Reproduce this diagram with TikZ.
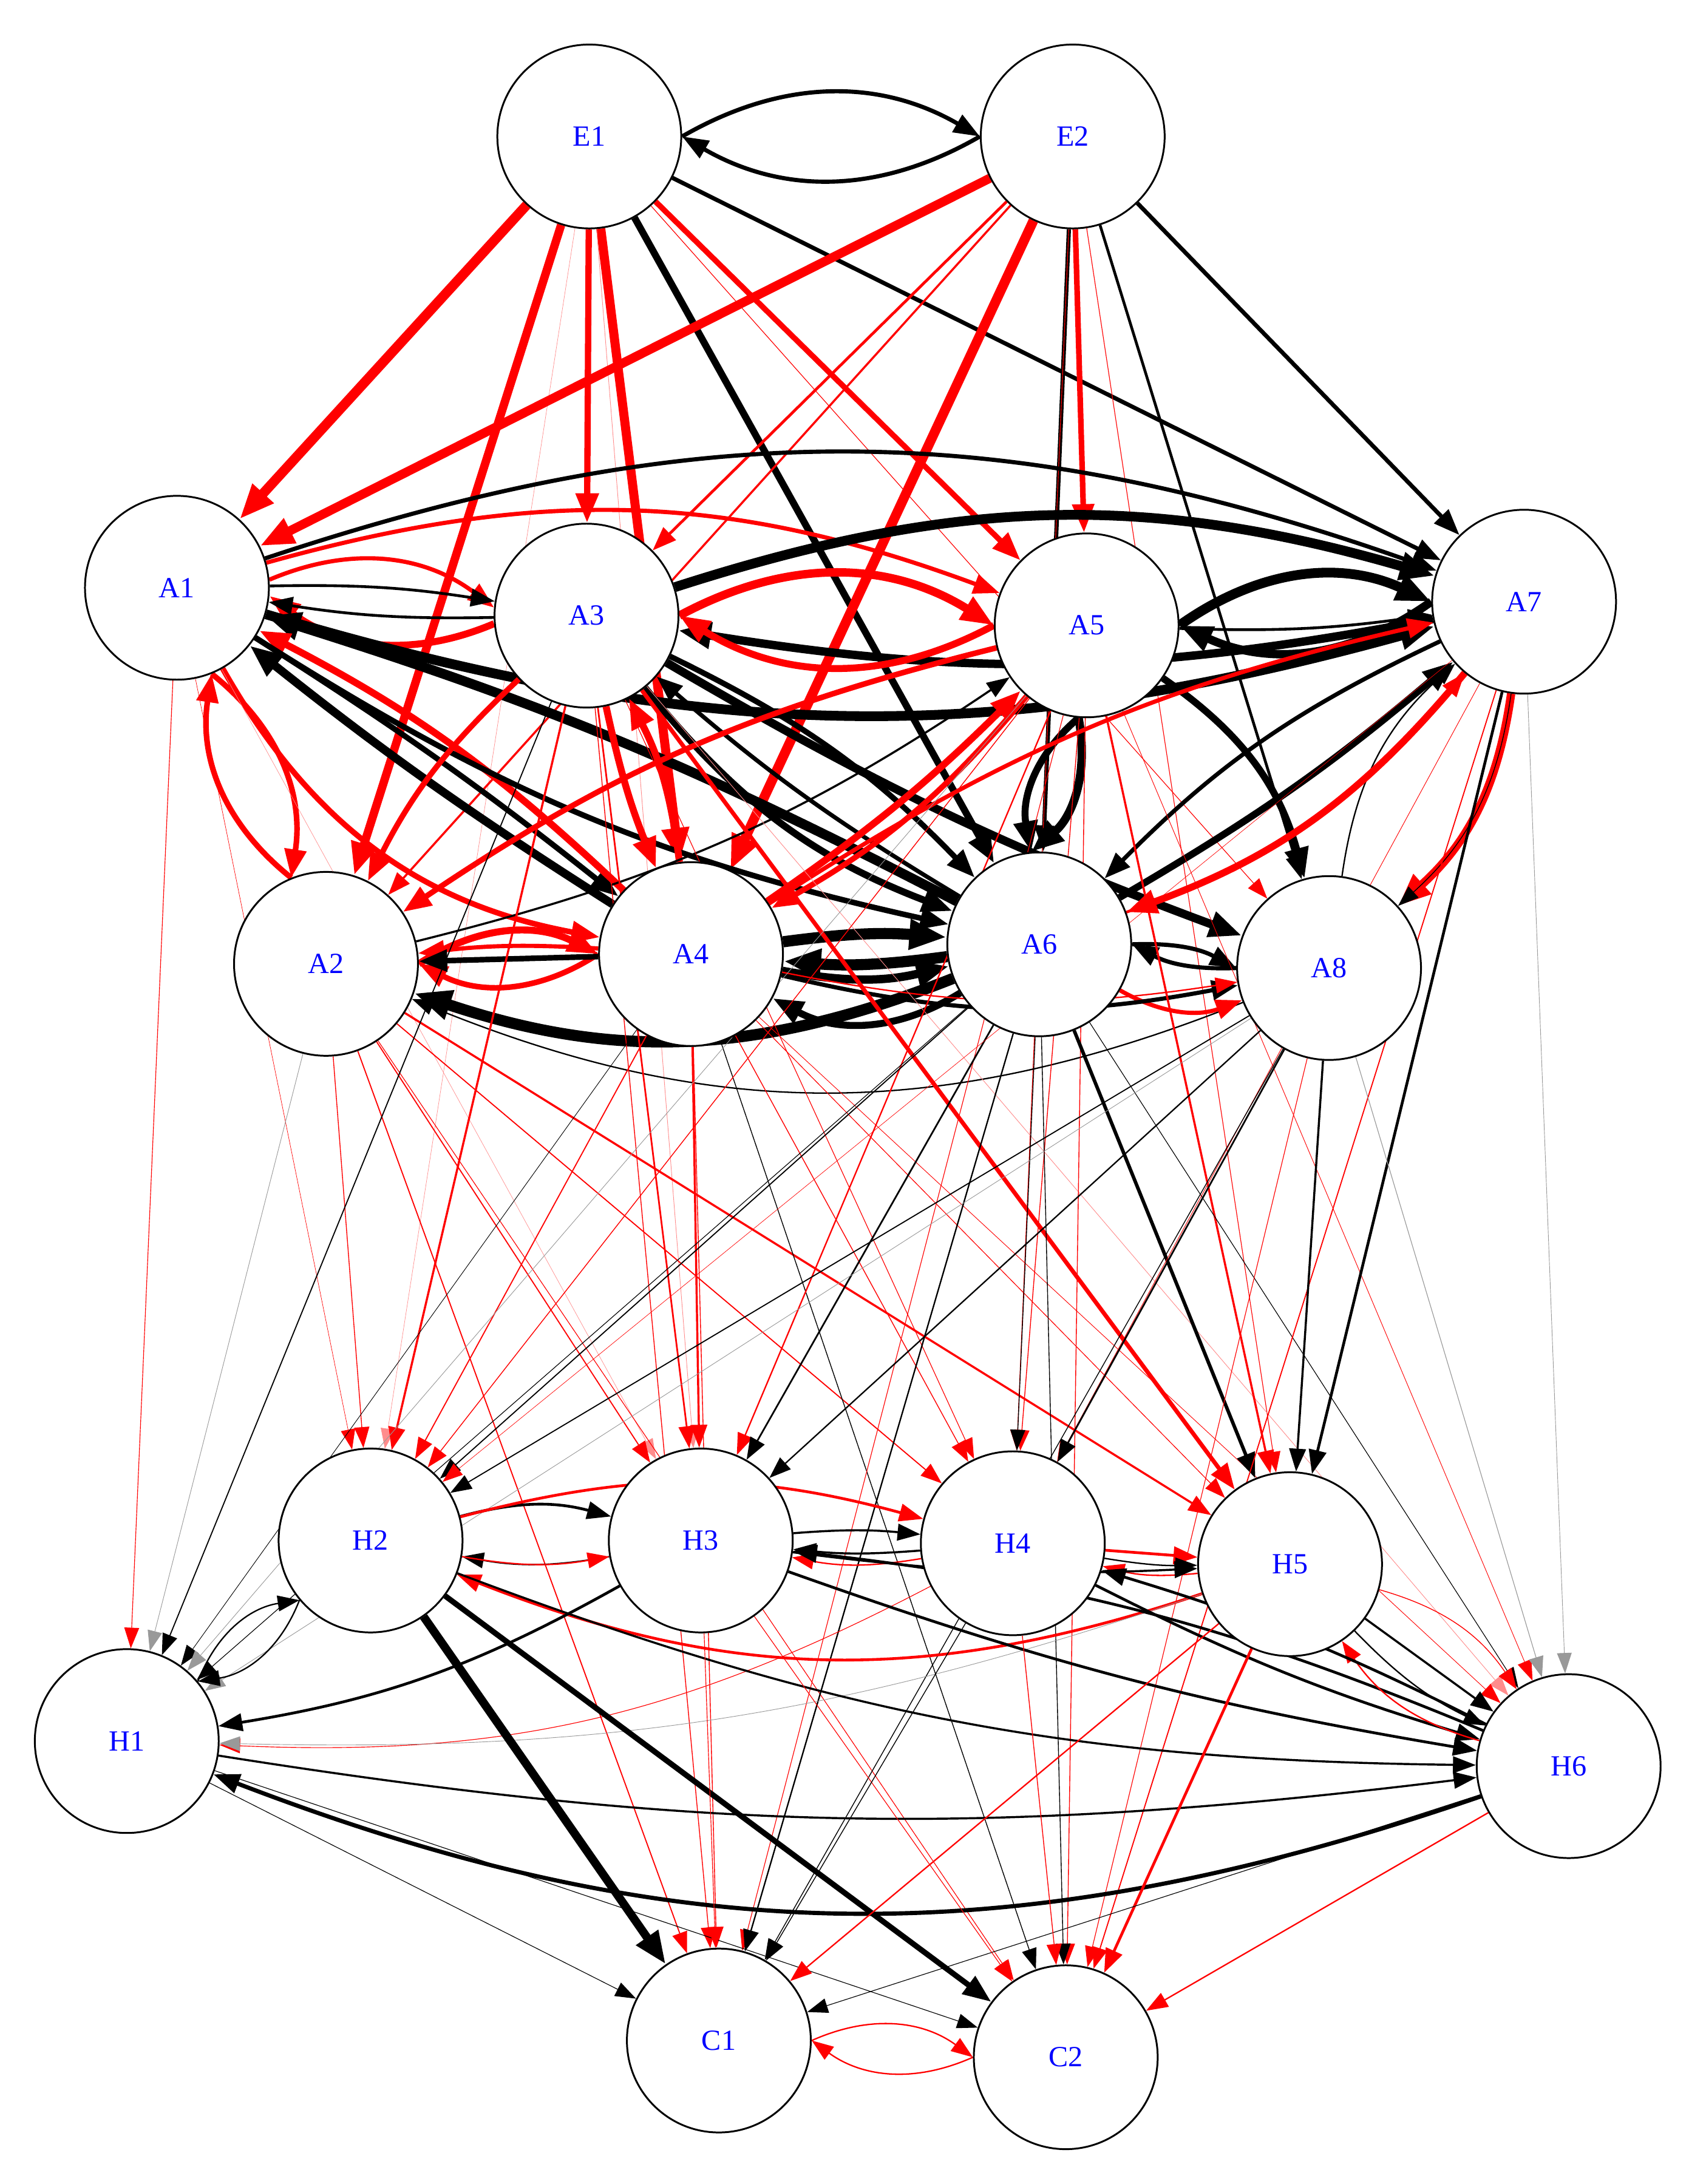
\documentclass[tikz,border=0pt]{standalone}
\usepackage{fontspec}
\setmainfont{Liberation Serif}
\usetikzlibrary{arrows.meta}
\pgfdeclarelayer{bg}
\pgfsetlayers{bg,main}
\colorlet{R}{red}
\colorlet{K}{black}
\colorlet{P}{red!45}
\colorlet{G}{black!40}
\tikzset{
  vtx/.style={circle,draw=black,line width=1.3pt,fill=white,minimum size=132pt,inner sep=0pt,text=blue,font=\fontsize{21}{21}\selectfont},
  edg/.style={-{Triangle[length=14pt 1.6,width=10pt 1.3]}},
}
\begin{document}
\begin{tikzpicture}[x=1pt,y=1pt]
\useasboundingbox (0,0) rectangle (1212,1568);
\node[vtx] (E1) at (423,1470) {E1};
\node[vtx] (E2) at (770,1470) {E2};
\node[vtx] (A1) at (127,1146) {A1};
\node[vtx] (A3) at (421,1126) {A3};
\node[vtx] (A5) at (780,1119) {A5};
\node[vtx] (A7) at (1094,1136) {A7};
\node[vtx] (A2) at (234,876) {A2};
\node[vtx] (A4) at (496,883) {A4};
\node[vtx] (A6) at (746,890) {A6};
\node[vtx] (A8) at (954,873) {A8};
\node[vtx] (H2) at (266,462) {H2};
\node[vtx] (H3) at (503,462) {H3};
\node[vtx] (H4) at (727,460) {H4};
\node[vtx] (H5) at (926,445) {H5};
\node[vtx] (H1) at (91,318) {H1};
\node[vtx] (H6) at (1126,300) {H6};
\node[vtx] (C1) at (516,103) {C1};
\node[vtx] (C2) at (765,91) {C2};
\begin{pgfonlayer}{bg}
\foreach \a/\b/\c/\w/\bb in {
E1.0/E2.180/K/3/30, E2.180/E1.0/K/3/30,
E1/A1/R/7/0, E1/A2/R/6/0, E1/A3/R/4.5/0, E1/A4/R/6.5/0, E1/A5/R/4/0, E1/A6/K/5/0, E1/A7/K/3/0, E1/A8/R/0.5/0, E1/H3/P/0.4/0, E1/H2/P/0.3/0,
E2/A1/R/6.5/0, E2/A2/R/1.5/0, E2/A3/R/2/0, E2/A4/R/7/0, E2/A5/R/4/0, E2/A6/K/3/0, E2/A7/K/3/0, E2/A8/K/2/0, E2/H4/R/0.5/0, E2/H5/R/0.5/0,
A1.5/A3.175/R/3/30, A3.185/A1.-5/R/5/30, A1/A3/K/2/5, A3/A1/K/2/5, A1/A5/R/3/18,
A1/A7/K/3/19, A1/A7/K/7/-16, A3/A7/K/7/17, A7/A3/K/6/10,
A3.0/A5.180/R/6/30, A5.180/A3.0/R/5/30, A5.0/A7.180/K/7/30, A7.180/A5.0/K/6/30, A5/A7/K/2/-5,
A1.-68/A2.112/R/4/30, A2.112/A1.-68/R/4/30, A4/A1/K/6/3, A1/A4/K/4/3, A6/A1/K/7/-5, A4/A1/R/5/-8, A1/A4/R/4/-25, A1/A6/K/4/-10,
A2.0/A4.180/R/5/30, A4.180/A2.0/R/4/30, A4/A2/R/3/-5, A4/A2/K/4/0, A6/A2/K/8/20, A8/A2/K/1/22,
A4/A6/K/8/6, A6/A4/K/8/6, A4/A6/K/6/-12, A6/A4/K/5/30,
A3/A6/K/5/-15, A3/A6/K/4/10, A6/A3/K/3/5, A3/A8/K/6/-5,
A5.265/A6.95/K/6/30, A5.265/A6.95/K/5/-30, A6.0/A8.180/K/3/15, A8.180/A6.0/K/3/15, A6/A8/R/3/-25, A5/A8/K/5/20,
A7/A8/R/6/20, A8/A7/K/1/20, A7/A8/K/0.6/20, A7/A6/R/5/15, A6/A7/K/5/-5, A7/A6/K/3/-10,
A4/A7/R/3/10, A6/A7/R/2/-15, A4/A5/R/5/-5, A5/A4/R/4/10, A5/A2/R/4/-10, A3/A2/R/4/-10,
A4/A3/R/5/-10, A3/A4/R/5/-5, A4/A8/K/3/-12, A4/A8/R/1/-10, A2/A5/K/1.5/-10,
A1/H1/R/0.5/0, A1/H2/R/0.3/0, A1/H3/P/0.3/0,
A2/H1/G/0.4/0, A2/H2/R/0.6/0, A2/H3/R/0.8/0, A2/H4/R/0.8/0, A2/H5/R/1.5/0, A2/C1/R/0.8/0, A2/C2/R/0.5/0,
A3/H1/K/0.8/0, A3/H2/R/1.5/0, A3/H3/R/1.2/0, A3/H4/R/0.5/0, A3/H5/R/3/0, A3/C1/R/0.6/0, A3/H6/P/0.4/0,
A4/H1/K/0.4/0, A4/H2/R/0.8/0, A4/H3/R/1.5/0, A4/H4/R/0.6/0, A4/H5/R/0.5/0, A4/H6/R/0.4/0, A4/C1/R/0.6/0, A4/C2/K/0.6/0,
A5/H1/G/0.4/0, A5/H2/R/0.6/0, A5/H3/R/1/0, A5/H4/R/0.6/0, A5/H5/R/1.5/0, A5/H6/R/0.4/0, A5/C1/R/0.5/0, A5/C2/R/0.6/0,
A6/H1/K/0.5/0, A6/H2/K/0.8/0, A6/H3/K/1.2/0, A6/H4/K/0.6/0, A6/H5/K/2.5/0, A6/H6/K/0.5/0, A6/C1/K/1/0, A6/C2/K/0.6/0,
A7/H5/K/2/0, A7/H6/G/0.4/0, A7/H2/R/0.3/0, A7/C2/R/0.8/0, A7/H4/R/0.4/0,
A8/H1/G/0.4/0, A8/H2/K/0.8/0, A8/H3/K/1/0, A8/H4/K/1.2/0, A8/H5/K/1.5/0, A8/H6/G/0.5/0, A8/C1/K/0.6/0, A8/C2/R/0.5/0,
H1.40/H2.220/K/1/30, H2.220/H1.40/K/1/30, H2/H3/K/2/15, H3/H2/K/1/10, H2/H3/R/1/-10, H2/H4/R/2/15, H5/H2/R/2/20,
H3/H4/K/1.5/5, H4/H3/K/1.5/5, H4/H3/R/1/10, H3/H1/K/2/10, H6/H1/K/3/20, H1/H6/K/1.5/-8, H4/H1/R/0.5/15, H5/H1/G/0.4/10,
H2/C1/K/6/0, H2/C2/K/4/0, H2/H6/K/1.5/-10, H6/H3/K/2/-8, H4/H6/K/2/-5, H5/H6/K/1.5/0, H5/H6/K/1/-10, H6/H5/R/1/20, H5/H6/R/0.6/20,
H3/H6/K/2/-5, H4/H5/R/2/0, H5/H4/R/1/10, H4/H5/K/1/-5, H6/H4/K/2/-5, H3/H5/K/1.5/-5,
H1/C1/K/0.5/0, H1/C2/K/0.5/0, H5/C1/R/1/0, H5/C2/R/2/0, H6/C2/R/1/0, H6/C1/K/0.5/0,
C1.0/C2.180/R/1/30, C2.180/C1.0/R/1/30, H3/C1/R/0.5/0, H3/C2/R/0.5/0, H4/C1/K/0.6/0, H4/C2/R/0.6/0}
{\draw[edg,draw=\c,line width=\w pt] (\a) to[bend left=\bb] (\b);}
\end{pgfonlayer}
\end{tikzpicture}
\end{document}
